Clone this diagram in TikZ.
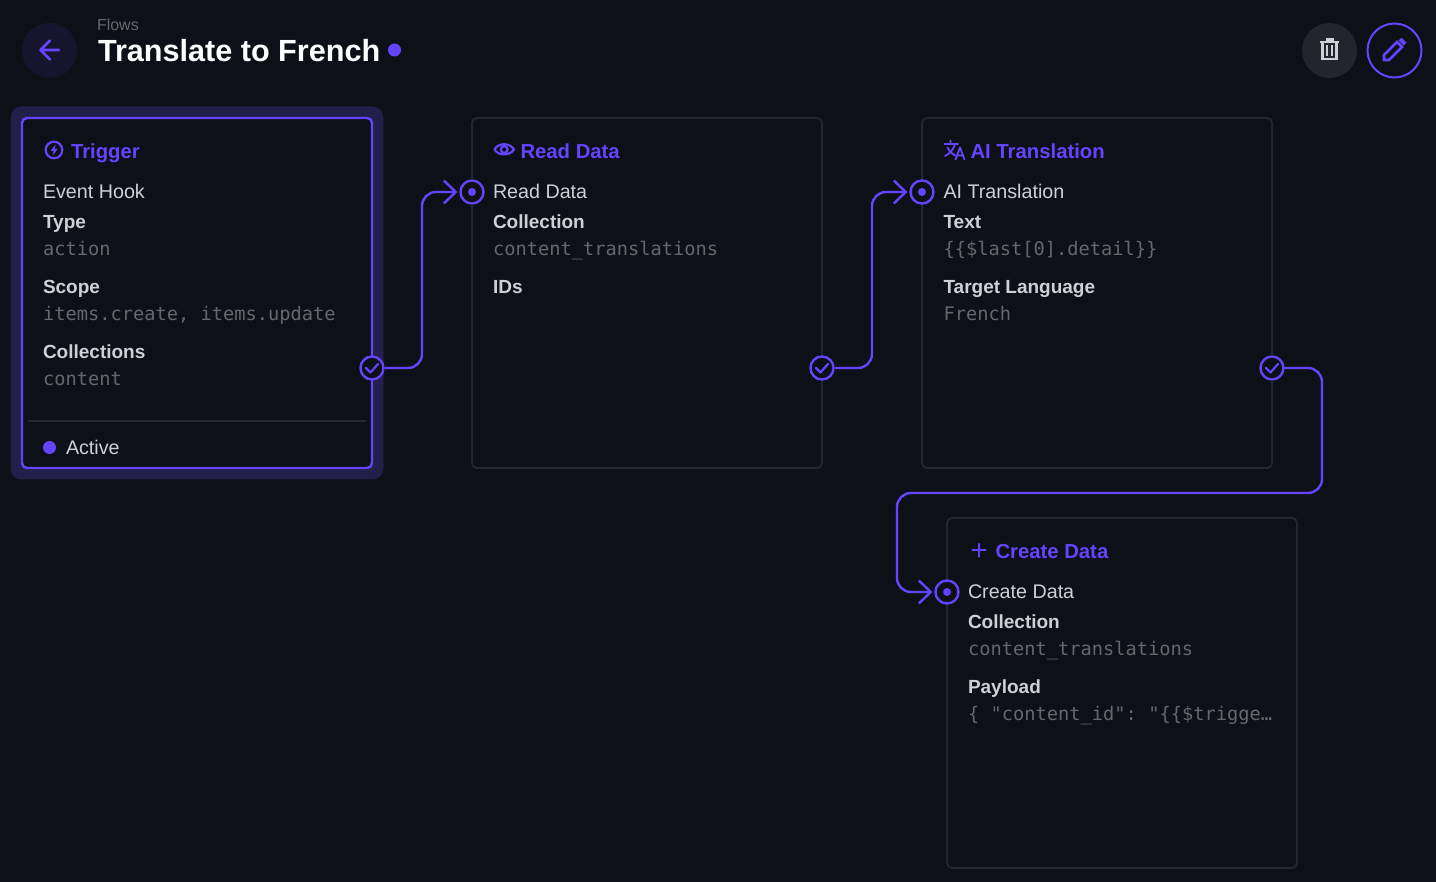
\documentclass[tikz,border=0pt]{standalone}
\usepackage{fontspec}
\setmainfont{Liberation Sans}
\newfontfamily\monofam{DejaVu Sans Mono}
\usetikzlibrary{arrows.meta}
\definecolor{bgc}{HTML}{0D1017}
\definecolor{pur}{HTML}{6644FF}
\definecolor{glow}{HTML}{231F4B}
\definecolor{edge}{HTML}{23262D}
\definecolor{soft}{HTML}{CDD1D6}
\definecolor{mute}{HTML}{66676D}
\definecolor{backc}{HTML}{17152E}
\definecolor{trashc}{HTML}{22252C}
\tikzset{
  x=1pt,y=-1pt,
  txt/.style={inner sep=0pt,outer sep=0pt,anchor=base west,yshift=-0.6pt},
  hdr/.style={txt,text=pur,font=\fontsize{20.3}{20}\selectfont\bfseries},
  plain/.style={txt,text=soft,font=\fontsize{19.7}{19}\selectfont},
  keyl/.style={txt,text=soft,font=\fontsize{19}{19}\selectfont\bfseries},
  valm/.style={txt,text=mute,font=\fontsize{18.7}{19}\selectfont\monofam},
  card/.style={draw=edge,line width=2pt,rounded corners=5pt,minimum width=350pt,minimum height=350pt,inner sep=0pt,outer sep=0pt,fill=bgc},
  portin/.style={circle,draw=pur,fill=bgc,line width=2.4pt,minimum size=23pt,inner sep=0pt,outer sep=1pt},
  portout/.style={circle,draw=pur,fill=bgc,line width=2.4pt,minimum size=23pt,inner sep=0pt,outer sep=1pt},
  flow/.style={draw=pur,line width=2.4pt,rounded corners=14pt,shorten >=2pt,-{Straight Barb[length=12pt,width=23pt,line width=2.4pt]}},
  ico/.style={draw=pur,line width=2.2pt,line cap=round,line join=round},
  discn/.style={circle,inner sep=0pt,outer sep=0pt},
}
\begin{document}
\begin{tikzpicture}
\useasboundingbox[fill=bgc] (0,0) rectangle (1436,882);

% header
\node[discn,fill=backc,minimum size=55pt] (back) at (49.5,50.5) {};
\draw[ico,line width=2.6pt] (59,50) -- (40.5,50) (50,40.5) -- (40.5,50) -- (50,59.5);
\node[txt,text=mute,font=\fontsize{16}{15}\selectfont] (crumb) at (97,30) {Flows};
\node[txt,text=white,font=\fontsize{30.6}{31}\selectfont\bfseries] (title) at (98,61) {Translate to French};
\node[discn,fill=pur,minimum size=13pt] (status) at (394.5,50) {};

\node[discn,fill=trashc,minimum size=55pt] (trash) at (1329.5,50.5) {};
\draw[soft,line width=2.6pt] (1322.5,43) -- (1322.5,59) -- (1336.5,59) -- (1336.5,43);
\draw[soft,line width=2.4pt] (1320,42) -- (1339,42);
\draw[soft,line width=2.4pt] (1325.5,39.5) -- (1333.5,39.5);
\draw[soft,line width=2.2pt] (1327.2,45) -- (1327.2,56) (1331.8,45) -- (1331.8,56);
\node[discn,draw=pur,line width=2pt,minimum size=54pt] (edit) at (1394.5,50.5) {};
\draw[ico,line width=2.6pt,line cap=butt,line join=miter] (1384,60) -- (1384,55) -- (1397,42) -- (1402,47) -- (1389,60) -- cycle;
\fill[pur] (1398.5,40.5) -- (1401.5,37.8) -- (1406.5,42.5) -- (1403.5,45.5) -- cycle;

% cards
\node[draw=none,fill=glow,rounded corners=11pt,minimum width=373pt,minimum height=373pt,inner sep=0pt] (halo) at (197,293) {};
\node[card,draw=pur,line width=2.4pt] (c1) at (197,293) {};
\node[card] (c2) at (647,293) {};
\node[card] (c3) at (1097,293) {};
\node[card] (c4) at (1122,693) {};

% trigger card
\draw[ico] (54,150) circle (8.3);
\fill[pur] (55.5,144.5) -- (50.6,151) -- (53.6,151) -- (52.6,155.6) -- (57.6,149) -- (54.6,149) -- cycle;
\node[hdr] (h1) at (71,158) {Trigger};
\node[plain] (t1a) at (43,198) {Event Hook};
\node[keyl] (t1b) at (43,228) {Type};
\node[valm] (t1c) at (43,255) {action};
\node[keyl] (t1d) at (43,293) {Scope};
\node[valm] (t1e) at (43,320) {items.create, items.update};
\node[keyl] (t1f) at (43,358) {Collections};
\node[valm] (t1g) at (43,385) {content};
\draw[edge,line width=1.6pt] (28,421) -- (366,421);
\node[discn,fill=pur,minimum size=13pt] (adot) at (49.5,447.5) {};
\node[plain] (atext) at (66,454) {Active};

% read card
\draw[ico] (494.5,149.5) .. controls (498,142.5) and (510,142.5) .. (514,149.5) .. controls (510,156) and (498,156) .. (494.5,149.5) -- cycle;
\draw[ico] (504.2,149.5) circle (3.4);
\node[hdr] (h2) at (520.5,158) {Read Data};
\node[plain] (t2a) at (493,198) {Read Data};
\node[keyl] (t2b) at (493,228) {Collection};
\node[valm] (t2c) at (493,255) {content\_translations};
\node[keyl] (t2d) at (493,293) {IDs};

% translation card
\draw[ico,line width=1.8pt] (944.5,144) -- (958,144) (950.5,140.5) -- (950.5,144)
  (955,144) .. controls (953.5,149.5) and (950,153.5) .. (945,156)
  (947.5,147.5) .. controls (949.5,151.5) and (952,154) .. (955,155.5)
  (955.5,159.5) -- (960,147.5) -- (964.5,159.5) (957,155.5) -- (963,155.5);
\node[hdr] (h3) at (970.5,158) {AI Translation};
\node[plain] (t3a) at (943.5,198) {AI Translation};
\node[keyl] (t3b) at (943.5,228) {Text};
\node[valm] (t3c) at (943.5,255) {\{\{\$last[0].detail\}\}};
\node[keyl] (t3d) at (943.5,293) {Target Language};
\node[valm] (t3e) at (943.5,320) {French};

% create card
\draw[ico] (979,544) -- (979,556.5) (972.5,550.2) -- (985.5,550.2);
\node[hdr] (h4) at (995.5,558) {Create Data};
\node[plain] (t4a) at (968,598) {Create Data};
\node[keyl] (t4b) at (968,628) {Collection};
\node[valm] (t4c) at (968,655) {content\_translations};
\node[keyl] (t4d) at (968,693) {Payload};
\node[valm] (t4e) at (968,720) {\{ "content\_id":\hspace{-3.5pt} "\{\{\$trigge…};

% ports
\node[portout] (o1) at (372,368) {};
\node[portout] (o2) at (822,368) {};
\node[portout] (o3) at (1272,368) {};
\node[portin] (i2) at (472,192) {};
\node[portin] (i3) at (922,192) {};
\node[portin] (i4) at (947,592) {};
\foreach \p in {o1,o2,o3}{
  \draw[ico] ([shift={(-6,0)}]\p.center) -- ([shift={(-1.5,4.5)}]\p.center) -- ([shift={(6,-4)}]\p.center);
}
\foreach \p in {i2,i3,i4}{
  \fill[pur] (\p.center) circle (4);
}

% connectors
\coordinate (k1) at (422,280);
\coordinate (k2) at (872,280);
\coordinate (k3a) at (1322,430);
\coordinate (k3b) at (897,493);
\draw[flow] (o1.east) -| (k1) |- (i2.west);
\draw[flow] (o2.east) -| (k2) |- (i3.west);
\draw[flow] (o3.east) -| (k3a) |- (k3b) |- (i4.west);
\end{tikzpicture}
\end{document}
